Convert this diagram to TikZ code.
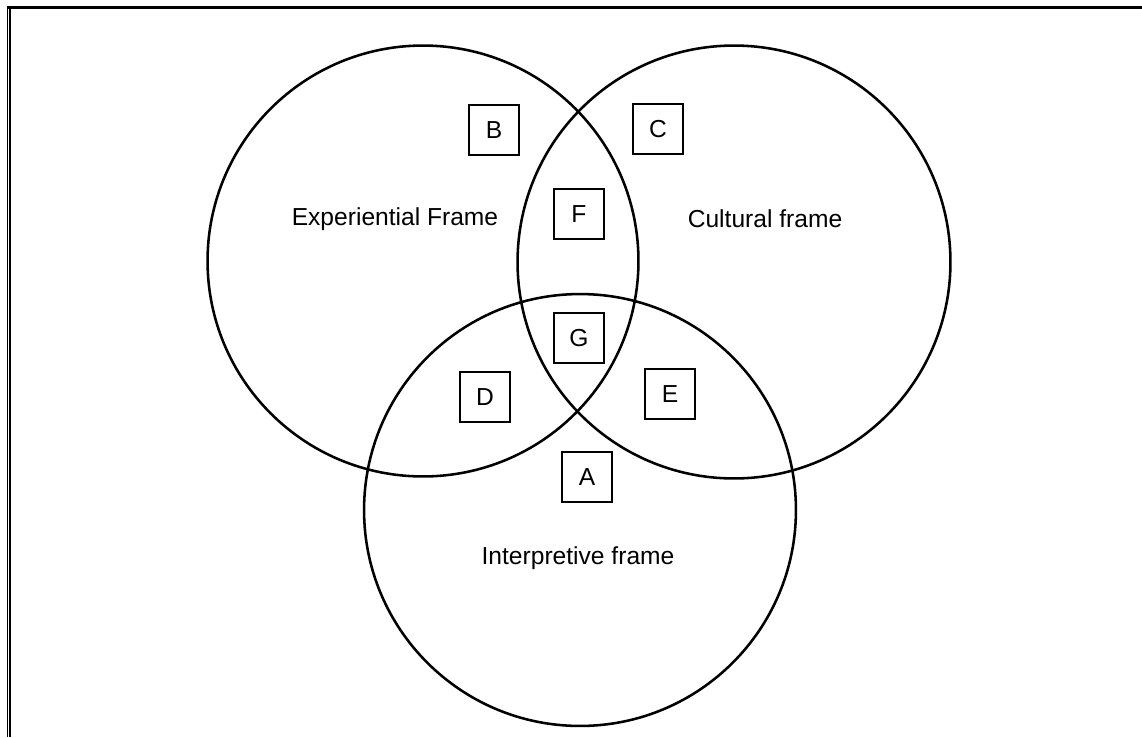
\documentclass[tikz,border=0pt]{standalone}
\usepackage{fontspec}
\setmainfont{Liberation Sans}
\begin{document}
\begin{tikzpicture}[x=0.02cm,y=-0.02cm,
  ring/.style={draw=black,line width=1.45pt},
  tag/.style={draw=black,line width=1.5pt,minimum width=1cm,minimum height=1cm,inner sep=0pt,font=\fontsize{14}{16}\selectfont},
  caption/.style={font=\fontsize{14}{16}\selectfont,inner sep=0pt}]
  \useasboundingbox (0,0) rectangle (1142,737);
  % frame: heavy top rule and doubled left rule
  \draw[line width=2pt] (7,7.5) -- (1142,7.5);
  \draw[line width=1pt] (7.5,7.5) -- (7.5,737);
  \draw[line width=0.8pt] (9.8,9) -- (9.8,737);
  % the three frames
  \node[ring,circle,minimum size=8.62cm,inner sep=0pt] (exp) at (423,261) {};
  \node[ring,circle,minimum size=8.66cm,inner sep=0pt] (cul) at (734,262) {};
  \node[ring,circle,minimum size=8.64cm,inner sep=0pt] (int) at (580,510) {};
  % frame names
  \node[caption] (expl) at (395,219) {Experiential Frame};
  \node[caption] (cull) at (765,219) {Cultural frame};
  \node[caption] (intl) at (578,558) {Interpretive frame};
  % region markers
  \node[tag] (B) at (494,130) {B};
  \node[tag] (C) at (658,129) {C};
  \node[tag] (F) at (579,214) {F};
  \node[tag] (G) at (579,338) {G};
  \node[tag] (D) at (485,397) {D};
  \node[tag] (E) at (670,394) {E};
  \node[tag] (A) at (587,477) {A};
\end{tikzpicture}
\end{document}
